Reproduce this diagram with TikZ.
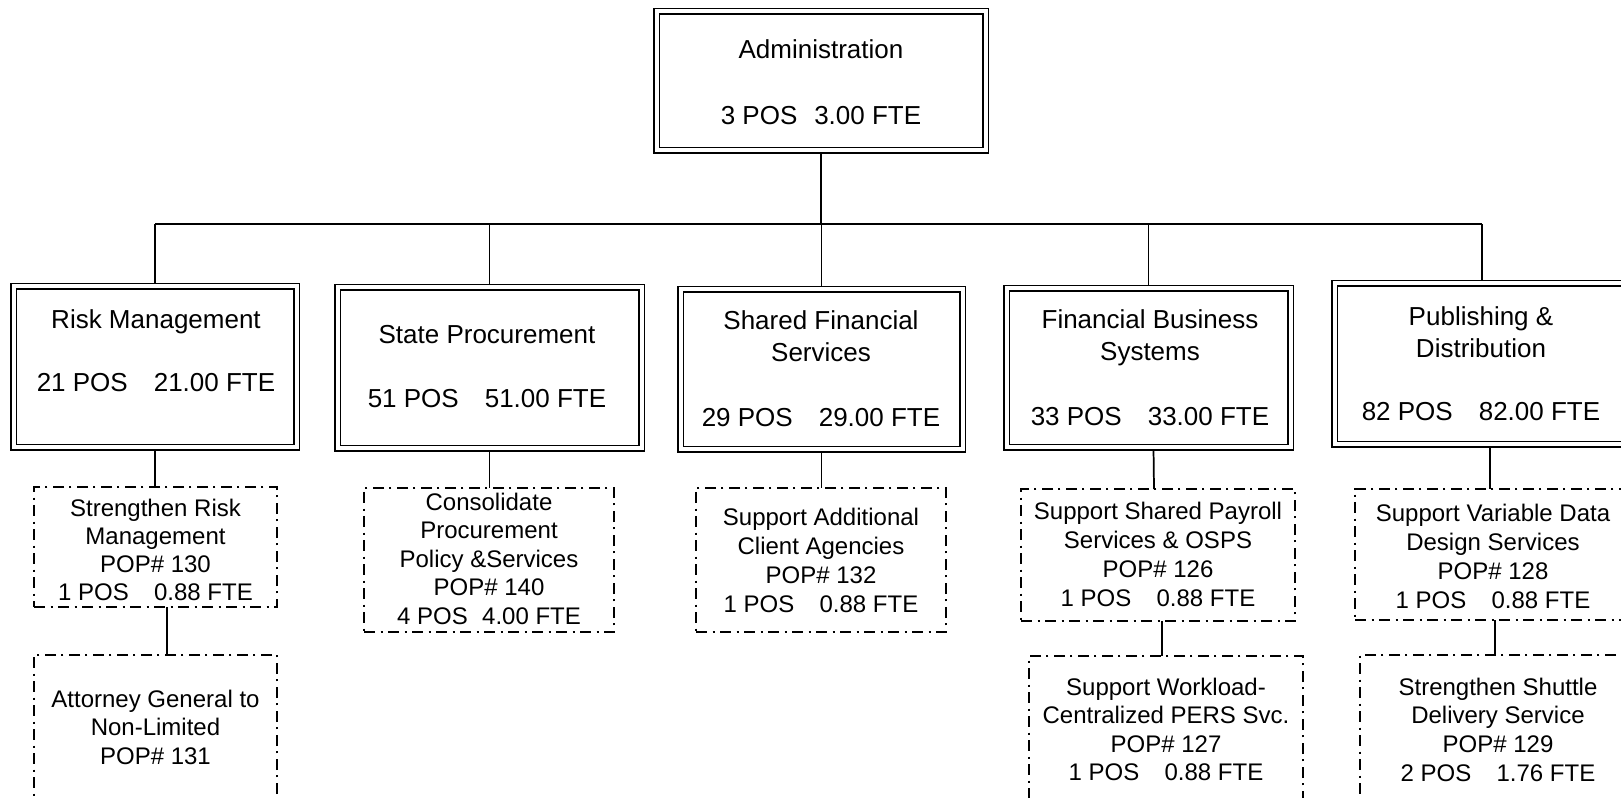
\documentclass[tikz,border=0pt]{standalone}
\usepackage{fontspec}
\setmainfont{Liberation Sans}
\usetikzlibrary{calc,backgrounds}

% One text node per line, placed on its baseline.
% #1 style, #2 name prefix, #3 x, #4 first baseline, #5 line step, #6 lines
\newcommand\txtlines[6]{%
  \foreach \t [count=\i] in {#6} {%
    \node[#1] (#2-\i) at (#3, {#4+(\i-1)*#5}) {\t};
  }%
}

\tikzset{
  size/.style 2 args={minimum width=#1*0.75pt, minimum height=#2*0.75pt},
  unitbox/.style={draw, line width=1.1pt, double=white, double distance=3pt,
                  inner sep=0pt, outer sep=0pt},
  planbox/.style={draw, line width=0.9pt,
                  dash pattern=on 8.5pt off 4pt on 1.5pt off 4pt,
                  inner sep=0pt, outer sep=0pt},
  bigtxt/.style={anchor=base, inner sep=0pt, font=\fontsize{19.5}{23}\selectfont},
  smalltxt/.style={anchor=base, inner sep=0pt, font=\fontsize{18}{21}\selectfont},
  link/.style={line width=1.3pt},
}

\begin{document}
\begin{tikzpicture}[x=0.75pt, y=-0.75pt]
\useasboundingbox (0,0) rectangle (1621,798);
\clip (0,0) rectangle (1621,798);

% ---- units ----
\node[unitbox, size={329}{139}] (admin) at (821,81) {};
\node[unitbox, size={283}{161}] (rm)  at (155,367) {};
\node[unitbox, size={304}{161}] (sp)  at (489.5,368) {};
\node[unitbox, size={282}{160}] (sfs) at (821.5,369.5) {};
\node[unitbox, size={284}{159}] (fbs) at (1148.5,368) {};
\node[unitbox, size={295}{161}] (pd)  at (1482,364) {};

\txtlines{bigtxt}{admin}{821}{59}{66}{Administration, 3 POS\hspace{0.65em}3.00 FTE}
\txtlines{bigtxt}{rmt}{156}{329}{63}{Risk Management, 21 POS\hspace{1em}21.00 FTE}
\txtlines{bigtxt}{spt}{487}{344}{64}{State Procurement, 51 POS\hspace{1em}51.00 FTE}
\txtlines{bigtxt}{sfst}{821}{330}{32}{Shared Financial, Services}
\node[bigtxt] (sfs-n) at (821,427) {29 POS\hspace{1em}29.00 FTE};
\txtlines{bigtxt}{fbst}{1150}{329}{32}{Financial Business, Systems}
\node[bigtxt] (fbs-n) at (1150,426) {33 POS\hspace{1em}33.00 FTE};
\txtlines{bigtxt}{pdt}{1481}{326}{32}{Publishing \&, Distribution}
\node[bigtxt] (pd-n) at (1481,421) {82 POS\hspace{1em}82.00 FTE};

% ---- proposals ----
\node[planbox, size={243}{120}] (srm) at (155.5,547) {};
\node[planbox, size={243}{160}] (atg) at (155.5,735) {};
\node[planbox, size={250}{144}] (cps) at (489,560) {};
\node[planbox, size={250}{144}] (sac) at (821,560) {};
\node[planbox, size={274}{132}] (ssp) at (1158,555) {};
\node[planbox, size={274}{160}] (swl) at (1166,736) {};
\node[planbox, size={276}{131}] (svd) at (1493,554.5) {};
\node[planbox, size={276}{160}] (sss) at (1498,735) {};

\txtlines{smalltxt}{srmt}{155.5}{516}{28}{Strengthen Risk, Management, POP\# 130, 1 POS\hspace{1.05em}0.88 FTE}
\txtlines{smalltxt}{atgt}{155.5}{707}{28.5}{Attorney General to, Non-Limited, POP\# 131}
\txtlines{smalltxt}{cpst}{489}{510}{28.5}{Consolidate, Procurement, Policy \&Services, POP\# 140, 4 POS\hspace{0.6em}4.00 FTE}
\txtlines{smalltxt}{sact}{821}{525}{29}{Support Additional, Client Agencies, POP\# 132, 1 POS\hspace{1.05em}0.88 FTE}
\txtlines{smalltxt}{sspt}{1158}{519}{29.3}{Support Shared Payroll, Services \& OSPS, POP\# 126, 1 POS\hspace{1.05em}0.88 FTE}
\txtlines{smalltxt}{swlt}{1166}{695}{28.5}{Support Workload-, Centralized PERS Svc., POP\# 127, 1 POS\hspace{1.05em}0.88 FTE}
\txtlines{smalltxt}{svdt}{1493}{522}{28.7}{Support Variable Data, Design Services, POP\# 128, 1 POS\hspace{1.05em}0.88 FTE}
\txtlines{smalltxt}{ssst}{1498}{695}{28.7}{Strengthen Shuttle, Delivery Service, POP\# 129, 2 POS\hspace{1.05em}1.76 FTE}

% ---- connectors, drawn under the boxes ----
\begin{pgfonlayer}{background}
\fill[white] (0,0) rectangle (1621,798);
\coordinate (busL) at (155,224);
\coordinate (busR) at (1482,224);
\draw[link] (busL) -- (busR);
\draw[link] (admin.south) -- (admin.south |- busL);
\foreach \u in {rm,sp,sfs,fbs,pd}
  \draw[link] (\u.north) -- (\u.north |- busL);
\draw[link] (rm.south) -- (rm.south |- srm.north);
\draw[link] (sp.south) -- (sp.south |- cps.north);
\draw[link] (sfs.south) -- (sfs.south |- sac.north);
\draw[link] ($(fbs.south)+(5,0)$) -- ($(ssp.north)+(-4,0)$);
\draw[link] ($(pd.south)+(8,0)$) -- ($(svd.north)+(-3,0)$);
\draw[link] ($(srm.south)+(11.5,0)$) -- ($(atg.north)+(11.5,0)$);
\draw[link] ($(ssp.south)+(4,0)$) -- ($(swl.north)+(-4,0)$);
\draw[link] ($(svd.south)+(2,0)$) -- ($(sss.north)+(-3,0)$);
\end{pgfonlayer}
\end{tikzpicture}
\end{document}
